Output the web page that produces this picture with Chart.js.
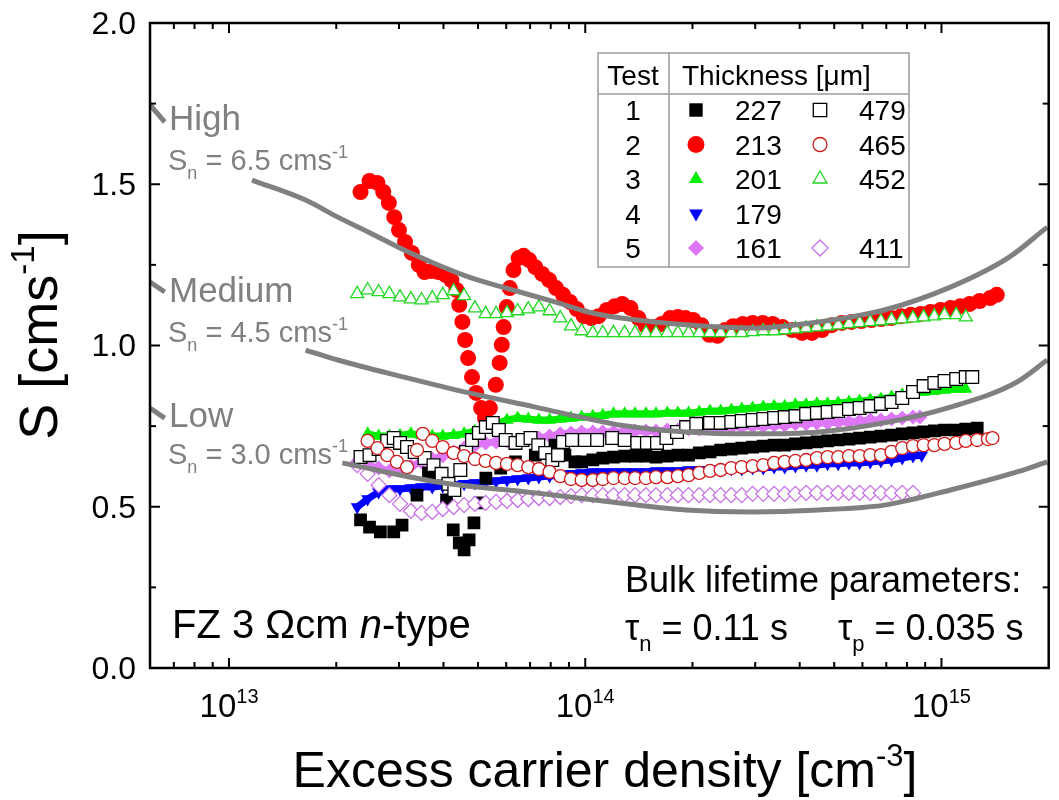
<!DOCTYPE html>
<html>
<head>
<meta charset="utf-8">
<script src="https://cdn.jsdelivr.net/npm/chart.js@4.4.0/dist/chart.umd.min.js"></script>
<style>
  html, body { margin: 0; padding: 0; background: #ffffff; }
</style>
</head>
<body>
<canvas id="sChart" width="1059" height="800"></canvas>
<script>
// axes
const xRange = [6e12, 2e15];
const yRange = [0, 2.0];
const xMajorTicks = [1e13, 1e14, 1e15];
const xMajorExp = ['13', '14', '15'];
const xMinorTicks = [7e12, 8e12, 9e12, 2e13, 3e13, 4e13, 5e13, 6e13, 7e13, 8e13, 9e13,
  2e14, 3e14, 4e14, 5e14, 6e14, 7e14, 8e14, 9e14];
const yMajorTicks = [0, 0.5, 1.0, 1.5, 2.0];
const yMinorTicks = [0.25, 0.75, 1.25, 1.75];

// legend table
const testNumbers = ['1', '2', '3', '4', '5'];
const thinThickness = ['227', '213', '201', '179', '161'];
const thickThickness = ['479', '465', '452', null, '411'];

// modelled S curves (grey), null = hidden behind the label
const curveHigh = [[6.0e12, 1.746], [6.6e12, 1.693], [9e12, null], [1.16e13, 1.513], [1.64e13, 1.451],
  [2.02e13, 1.398], [2.49e13, 1.349], [3.10e13, 1.296], [3.82e13, 1.252], [4.72e13, 1.212], [5.86e13, 1.181],
  [8.22e13, 1.135], [1.02e14, 1.104], [1.26e14, 1.085], [1.92e14, 1.064], [2.95e14, 1.054], [4.53e14, 1.073],
  [6.91e14, 1.110], [1.06e15, 1.181], [1.55e15, 1.274], [1.98e15, 1.367]];
const curveMedium = [[6.0e12, 1.197], [6.6e12, 1.166], [9e12, null], [1.64e13, 0.986], [2.02e13, 0.955],
  [3.10e13, 0.902], [4.72e13, 0.853], [7.24e13, 0.809], [1.06e14, 0.769], [1.26e14, 0.753], [1.92e14, 0.732],
  [2.95e14, 0.726], [4.53e14, 0.732], [6.90e14, 0.760], [1.06e15, 0.809], [1.63e15, 0.887], [1.98e15, 0.955]];
const curveLow = [[6.0e12, 0.806], [6.6e12, 0.775], [9e12, null], [2.08e13, 0.636], [3.83e13, 0.577],
  [7.24e13, 0.543], [1.06e14, 0.521], [1.92e14, 0.490], [2.95e14, 0.484], [4.53e14, 0.490], [6.90e14, 0.505],
  [1.06e15, 0.552], [1.63e15, 0.608], [1.98e15, 0.639]];

// measured S, test 1
const s227 = [[2.34e13,0.459],[2.48e13,0.437],[2.66e13,0.422],[2.90e13,0.422],[3.06e13,0.443],[3.37e13,0.536],
  [3.63e13,0.605],[3.90e13,0.589],[4.08e13,0.521],[4.26e13,0.428],[4.43e13,0.388],[4.57e13,0.366],[4.72e13,0.397],
  [4.87e13,0.450],[5.07e13,0.512],[5.26e13,0.589],[5.79e13,0.620],[6.37e13,0.639],[7.24e13,0.660],[8.22e13,0.691],
  [8.77e13,0.660],[9.35e13,0.639],[9.77e13,0.639],[1.05e14,0.645],[1.12e14,0.651],[1.20e14,0.654],[1.29e14,0.657],
  [1.38e14,0.657],[1.48e14,0.657],[1.58e14,0.654],[1.70e14,0.657],[1.82e14,0.660],[1.95e14,0.660],[2.09e14,0.667],
  [2.24e14,0.670],[2.40e14,0.676],[2.57e14,0.679],[2.75e14,0.682],[2.95e14,0.685],[3.16e14,0.688],[3.39e14,0.691],
  [3.63e14,0.691],[3.89e14,0.695],[4.17e14,0.698],[4.47e14,0.701],[4.79e14,0.704],[5.13e14,0.707],[5.50e14,0.710],
  [5.89e14,0.713],[6.31e14,0.716],[6.76e14,0.719],[7.24e14,0.722],[7.76e14,0.726],[8.32e14,0.729],[8.91e14,0.732],
  [9.55e14,0.735],[1.02e15,0.738],[1.10e15,0.738],[1.17e15,0.741],[1.26e15,0.744]];
const s479 = [[2.34e13,0.654],[2.48e13,0.660],[2.63e13,0.679],[2.78e13,0.704],[2.90e13,0.713],[3.02e13,0.698],
  [3.16e13,0.685],[3.32e13,0.670],[3.54e13,0.651],[3.75e13,0.629],[3.95e13,0.602],[4.13e13,0.571],[4.29e13,0.552],
  [4.46e13,0.614],[4.63e13,0.670],[4.81e13,0.707],[5.03e13,0.729],[5.26e13,0.747],[5.50e13,0.760],[5.72e13,0.738],
  [5.98e13,0.707],[6.37e13,0.698],[6.67e13,0.707],[7.02e13,0.713],[7.38e13,0.691],[7.72e13,0.667],[8.08e13,0.645],
  [8.39e13,0.660],[8.66e13,0.701],[9.18e13,0.707],[9.98e13,0.707],[1.08e14,0.707],[1.19e14,0.713],[1.29e14,0.707],
  [1.40e14,0.698],[1.49e14,0.698],[1.59e14,0.698],[1.69e14,0.713],[1.81e14,0.732],[1.92e14,0.747],[2.05e14,0.757],
  [2.24e14,0.760],[2.40e14,0.760],[2.57e14,0.763],[2.75e14,0.766],[2.95e14,0.769],[3.16e14,0.772],[3.39e14,0.775],
  [3.63e14,0.778],[3.89e14,0.781],[4.17e14,0.788],[4.47e14,0.791],[4.79e14,0.794],[5.13e14,0.797],[5.50e14,0.803],
  [5.89e14,0.806],[6.31e14,0.812],[6.76e14,0.819],[7.24e14,0.825],[7.76e14,0.837],[8.32e14,0.856],[8.91e14,0.874],
  [9.55e14,0.884],[1.02e15,0.890],[1.10e15,0.896],[1.17e15,0.902],[1.22e15,0.902]];

// test 2
const s213 = [[2.34e13,1.476],[2.48e13,1.510],[2.61e13,1.504],[2.71e13,1.476],[2.81e13,1.442],[2.91e13,1.398],
  [3.00e13,1.358],[3.12e13,1.321],[3.26e13,1.287],[3.41e13,1.250],[3.54e13,1.228],[3.70e13,1.231],[3.87e13,1.228],
  [4.05e13,1.219],[4.21e13,1.203],[4.35e13,1.172],[4.43e13,1.126],[4.52e13,1.073],[4.60e13,1.017],[4.69e13,0.961],
  [4.81e13,0.902],[4.94e13,0.853],[5.10e13,0.806],[5.23e13,0.775],[5.40e13,0.806],[5.61e13,0.878],[5.75e13,0.946],
  [5.83e13,1.002],[5.90e13,1.057],[6.02e13,1.119],[6.14e13,1.178],[6.29e13,1.234],[6.50e13,1.271],[6.71e13,1.278],
  [6.96e13,1.265],[7.24e13,1.243],[7.57e13,1.222],[7.92e13,1.203],[8.28e13,1.178],[8.66e13,1.157],[9.06e13,1.135],
  [9.47e13,1.113],[9.90e13,1.091],[1.04e14,1.085],[1.09e14,1.091],[1.15e14,1.110],[1.21e14,1.122],[1.27e14,1.129],
  [1.34e14,1.116],[1.41e14,1.085],[1.48e14,1.060],[1.56e14,1.057],[1.64e14,1.067],[1.73e14,1.085],[1.82e14,1.088],
  [1.91e14,1.085],[2.01e14,1.079],[2.12e14,1.063],[2.23e14,1.033],[2.35e14,1.030],[2.47e14,1.048],[2.60e14,1.060],
  [2.77e14,1.067],[2.95e14,1.070],[3.15e14,1.070],[3.36e14,1.067],[3.58e14,1.057],[3.81e14,1.048],[4.06e14,1.039],
  [4.33e14,1.039],[4.62e14,1.048],[4.92e14,1.063],[5.25e14,1.070],[5.59e14,1.073],[5.96e14,1.076],[6.36e14,1.079],
  [6.77e14,1.082],[7.22e14,1.085],[7.70e14,1.091],[8.20e14,1.095],[8.74e14,1.098],[9.32e14,1.104],[9.94e14,1.110],
  [1.06e15,1.116],[1.13e15,1.122],[1.20e15,1.129],[1.28e15,1.138],[1.37e15,1.147],[1.43e15,1.157]];
const s465 = [[2.45e13,0.704],[2.61e13,0.682],[2.78e13,0.660],[2.96e13,0.639],[3.16e13,0.623],[3.37e13,0.676],
  [3.50e13,0.726],[3.72e13,0.704],[3.98e13,0.685],[4.27e13,0.667],[4.57e13,0.657],[4.90e13,0.648],[5.25e13,0.642],
  [5.62e13,0.636],[6.03e13,0.633],[6.46e13,0.629],[6.92e13,0.623],[7.41e13,0.617],[7.94e13,0.608],[8.51e13,0.595],
  [9.12e13,0.586],[9.77e13,0.583],[1.05e14,0.583],[1.12e14,0.586],[1.20e14,0.589],[1.29e14,0.589],[1.38e14,0.589],
  [1.48e14,0.589],[1.58e14,0.592],[1.70e14,0.592],[1.82e14,0.595],[1.95e14,0.598],[2.09e14,0.605],[2.24e14,0.611],
  [2.40e14,0.614],[2.57e14,0.620],[2.75e14,0.623],[2.95e14,0.626],[3.16e14,0.629],[3.39e14,0.636],[3.63e14,0.639],
  [3.89e14,0.642],[4.17e14,0.645],[4.47e14,0.651],[4.79e14,0.654],[5.13e14,0.654],[5.50e14,0.657],[5.89e14,0.657],
  [6.31e14,0.660],[6.76e14,0.660],[7.24e14,0.670],[7.76e14,0.682],[8.32e14,0.688],[8.91e14,0.691],[9.55e14,0.691],
  [1.02e15,0.695],[1.10e15,0.698],[1.17e15,0.704],[1.26e15,0.707],[1.35e15,0.710],[1.39e15,0.713]];

// test 3
const s201 = [[2.45e13,0.726],[2.63e13,0.719],[2.82e13,0.719],[3.02e13,0.722],[3.24e13,0.726],[3.47e13,0.722],
  [3.72e13,0.719],[3.98e13,0.719],[4.27e13,0.722],[4.57e13,0.726],[4.90e13,0.735],[5.25e13,0.747],[5.62e13,0.757],
  [6.03e13,0.769],[6.46e13,0.775],[6.92e13,0.772],[7.41e13,0.769],[7.94e13,0.769],[8.51e13,0.772],[9.12e13,0.775],
  [9.77e13,0.778],[1.05e14,0.781],[1.12e14,0.784],[1.20e14,0.788],[1.29e14,0.788],[1.38e14,0.788],[1.48e14,0.788],
  [1.58e14,0.788],[1.70e14,0.791],[1.82e14,0.791],[1.95e14,0.791],[2.09e14,0.794],[2.24e14,0.797],[2.40e14,0.797],
  [2.57e14,0.800],[2.75e14,0.803],[2.95e14,0.806],[3.16e14,0.809],[3.39e14,0.812],[3.63e14,0.812],[3.89e14,0.816],
  [4.17e14,0.816],[4.47e14,0.819],[4.79e14,0.819],[5.13e14,0.822],[5.50e14,0.825],[5.89e14,0.828],[6.31e14,0.831],
  [6.76e14,0.834],[7.24e14,0.840],[7.76e14,0.847],[8.32e14,0.853],[8.91e14,0.856],[9.55e14,0.859],[1.02e15,0.862],
  [1.10e15,0.865],[1.17e15,0.865]];
const s452 = [[2.29e13,1.160],[2.45e13,1.172],[2.63e13,1.166],[2.82e13,1.160],[3.02e13,1.150],[3.24e13,1.144],
  [3.47e13,1.141],[3.72e13,1.147],[3.98e13,1.157],[4.27e13,1.169],[4.57e13,1.154],[4.90e13,1.116],[5.25e13,1.098],
  [5.62e13,1.098],[6.03e13,1.101],[6.46e13,1.107],[6.92e13,1.113],[7.41e13,1.119],[7.94e13,1.107],[8.51e13,1.085],
  [9.12e13,1.060],[9.77e13,1.045],[1.05e14,1.039],[1.12e14,1.039],[1.20e14,1.039],[1.29e14,1.039],[1.38e14,1.039],
  [1.48e14,1.039],[1.58e14,1.039],[1.70e14,1.039],[1.82e14,1.039],[1.95e14,1.039],[2.09e14,1.039],[2.24e14,1.039],
  [2.40e14,1.039],[2.57e14,1.039],[2.75e14,1.039],[2.95e14,1.042],[3.16e14,1.045],[3.39e14,1.045],[3.63e14,1.048],
  [3.89e14,1.051],[4.17e14,1.054],[4.47e14,1.057],[4.79e14,1.060],[5.13e14,1.063],[5.50e14,1.067],[5.89e14,1.070],
  [6.31e14,1.073],[6.76e14,1.076],[7.24e14,1.079],[7.76e14,1.082],[8.32e14,1.085],[8.91e14,1.088],[9.55e14,1.091],
  [1.02e15,1.095],[1.10e15,1.095],[1.17e15,1.088]];

// test 4
const s179 = [[2.29e13,0.499],[2.45e13,0.524],[2.63e13,0.546],[2.82e13,0.555],[3.02e13,0.555],[3.24e13,0.558],
  [3.47e13,0.561],[3.72e13,0.561],[3.98e13,0.564],[4.27e13,0.567],[4.57e13,0.571],[4.90e13,0.574],[5.25e13,0.577],
  [5.62e13,0.580],[6.03e13,0.583],[6.46e13,0.586],[6.92e13,0.589],[7.41e13,0.592],[7.94e13,0.595],[8.51e13,0.598],
  [9.12e13,0.602],[9.77e13,0.605],[1.05e14,0.608],[1.12e14,0.608],[1.20e14,0.608],[1.29e14,0.608],[1.38e14,0.608],
  [1.48e14,0.608],[1.58e14,0.611],[1.70e14,0.611],[1.82e14,0.611],[1.95e14,0.614],[2.09e14,0.614],[2.24e14,0.614],
  [2.40e14,0.617],[2.57e14,0.617],[2.75e14,0.617],[2.95e14,0.620],[3.16e14,0.620],[3.39e14,0.623],[3.63e14,0.623],
  [3.89e14,0.626],[4.17e14,0.629],[4.47e14,0.629],[4.79e14,0.633],[5.13e14,0.633],[5.50e14,0.636],[5.89e14,0.636],
  [6.31e14,0.639],[6.76e14,0.642],[7.24e14,0.645],[7.76e14,0.651],[8.32e14,0.657],[8.8e14,0.660]];

// test 5
const s161 = [[2.29e13,0.639],[2.45e13,0.629],[2.63e13,0.620],[2.82e13,0.611],[3.02e13,0.614],[3.24e13,0.626],
  [3.47e13,0.639],[3.72e13,0.648],[3.98e13,0.657],[4.27e13,0.670],[4.57e13,0.682],[4.90e13,0.691],[5.25e13,0.698],
  [5.62e13,0.701],[6.03e13,0.704],[6.46e13,0.707],[6.92e13,0.710],[7.41e13,0.713],[7.94e13,0.719],[8.51e13,0.726],
  [9.12e13,0.729],[9.77e13,0.732],[1.05e14,0.732],[1.12e14,0.732],[1.20e14,0.732],[1.29e14,0.732],[1.38e14,0.735],
  [1.48e14,0.735],[1.58e14,0.735],[1.70e14,0.738],[1.82e14,0.738],[1.95e14,0.741],[2.09e14,0.741],[2.24e14,0.744],
  [2.40e14,0.744],[2.57e14,0.747],[2.75e14,0.747],[2.95e14,0.750],[3.16e14,0.750],[3.39e14,0.753],[3.63e14,0.753],
  [3.89e14,0.757],[4.17e14,0.757],[4.47e14,0.760],[4.79e14,0.760],[5.13e14,0.763],[5.50e14,0.763],[5.89e14,0.766],
  [6.31e14,0.769],[6.76e14,0.769],[7.24e14,0.772],[7.76e14,0.775],[8.32e14,0.778],[8.7e14,0.778]];
const s411 = [[2.29e13,0.629],[2.45e13,0.602],[2.63e13,0.567],[2.82e13,0.536],[3.02e13,0.509],[3.24e13,0.487],
  [3.47e13,0.481],[3.72e13,0.484],[3.98e13,0.493],[4.27e13,0.499],[4.57e13,0.505],[4.90e13,0.509],[5.25e13,0.512],
  [5.62e13,0.515],[6.03e13,0.518],[6.46e13,0.521],[6.92e13,0.524],[7.41e13,0.527],[7.94e13,0.527],[8.51e13,0.530],
  [9.12e13,0.533],[9.77e13,0.536],[1.05e14,0.536],[1.12e14,0.536],[1.20e14,0.536],[1.29e14,0.536],[1.38e14,0.536],
  [1.48e14,0.536],[1.58e14,0.536],[1.70e14,0.536],[1.82e14,0.536],[1.95e14,0.536],[2.09e14,0.536],[2.24e14,0.536],
  [2.40e14,0.536],[2.57e14,0.536],[2.75e14,0.536],[2.95e14,0.540],[3.16e14,0.540],[3.39e14,0.540],[3.63e14,0.540],
  [3.89e14,0.540],[4.17e14,0.543],[4.47e14,0.543],[4.79e14,0.543],[5.13e14,0.543],[5.50e14,0.543],[5.89e14,0.543],
  [6.31e14,0.543],[6.76e14,0.543],[7.24e14,0.543],[7.76e14,0.543],[8.32e14,0.543]];

const FONT = 'Liberation Sans, Arial, sans-serif';
const GREY = '#808080';

const pts = arr => arr.map(p => ({ x: p[0], y: p[1] }));

function curve(label, arr) {
  return {
    label: label, data: pts(arr), showLine: true, pointRadius: 0,
    borderColor: GREY, borderWidth: 5, cubicInterpolationMode: 'monotone', spanGaps: false
  };
}

// marker spec: [style, fill, stroke, radius, borderWidth, rotation, bandWidth]
function marker(label, arr, m) {
  const ds = {
    label: label, data: pts(arr), showLine: false,
    pointStyle: m[0], pointRadius: m[3], pointRotation: m[5] || 0,
    pointBackgroundColor: m[1], pointBorderColor: m[2], pointBorderWidth: m[4]
  };
  if (m[6]) {
    // filled series: join neighbouring markers into a band, skip long jumps
    ds.showLine = true;
    ds.borderColor = m[1];
    ds.borderWidth = m[6];
    ds.segment = {
      borderColor: c => Math.hypot(c.p1.x - c.p0.x, c.p1.y - c.p0.y) > 16 ? 'rgba(0,0,0,0)' : undefined
    };
  }
  return ds;
}

const mkThin = {
  '227': ['rect', '#000000', '#000000', 9, 0, 0, 0],
  '213': ['circle', '#ff0000', '#ff0000', 8, 0, 0, 0],
  '201': ['triangle', '#00ee00', '#00ee00', 7.5, 0, 0, 7],
  '179': ['triangle', '#0000ff', '#0000ff', 7.5, 0, 180, 7],
  '161': ['rectRot', '#dd77f5', '#dd77f5', 7.5, 0, 0, 7]
};
const mkThick = {
  '479': ['rect', '#ffffff', '#000000', 9, 1.3, 0, 0],
  '465': ['circle', '#ffffff', '#d01818', 6.5, 1.3, 0, 0],
  '452': ['triangle', '#ffffff', '#22d822', 7.5, 1.3, 0, 0],
  '411': ['rectRot', '#ffffff', '#c76ee8', 7.5, 1.3, 0, 0]
};

// first in list is drawn on top
const datasets = [
  curve('High', curveHigh), curve('Medium', curveMedium), curve('Low', curveLow),
  marker('465', s465, mkThick['465']),
  marker('452', s452, mkThick['452']),
  marker('479', s479, mkThick['479']),
  marker('213', s213, mkThin['213']),
  marker('411', s411, mkThick['411']),
  marker('227', s227, mkThin['227']),
  marker('201', s201, mkThin['201']),
  marker('161', s161, mkThin['161']),
  marker('179', s179, mkThin['179'])
];

// text with sub/superscripts: parts = [text, 'sub'|'sup'|'', italic]
function richText(ctx, parts, x, y, size, color, align) {
  const fontFor = p => (p[2] ? 'italic ' : '') + Math.round(p[1] ? size * 0.62 : size) + 'px ' + FONT;
  let w = 0;
  parts.forEach(p => { ctx.font = fontFor(p); w += ctx.measureText(p[0]).width; });
  let cx = align === 'center' ? x - w / 2 : (align === 'right' ? x - w : x);
  ctx.fillStyle = color;
  ctx.textAlign = 'left';
  ctx.textBaseline = 'alphabetic';
  parts.forEach(p => {
    ctx.font = fontFor(p);
    const dy = p[1] === 'sub' ? size * 0.3 : (p[1] === 'sup' ? -size * 0.42 : 0);
    ctx.fillText(p[0], cx, y + dy);
    cx += ctx.measureText(p[0]).width;
  });
}

function legendMark(ctx, m, x, y) {
  ctx.fillStyle = m[1];
  ctx.strokeStyle = m[2];
  ctx.lineWidth = m[4] || 1;
  Chart.helpers.drawPoint(ctx, { pointStyle: m[0], radius: m[3] + 0.5, rotation: m[5], borderWidth: m[4] }, x, y);
}

const decor = {
  id: 'decor',
  afterDraw(chart) {
    const ctx = chart.ctx, a = chart.chartArea;
    const xs = chart.scales.x, ys = chart.scales.y;
    ctx.save();

    // frame and inward ticks
    ctx.strokeStyle = '#000';
    ctx.lineWidth = 2;
    const seg = (x1, y1, x2, y2) => { ctx.beginPath(); ctx.moveTo(x1, y1); ctx.lineTo(x2, y2); ctx.stroke(); };
    xMajorTicks.forEach(v => { const p = xs.getPixelForValue(v); seg(p, a.bottom, p, a.bottom - 10); seg(p, a.top, p, a.top + 10); });
    xMinorTicks.forEach(v => { const p = xs.getPixelForValue(v); seg(p, a.bottom, p, a.bottom - 6); seg(p, a.top, p, a.top + 6); });
    yMajorTicks.forEach(v => { const p = ys.getPixelForValue(v); seg(a.left, p, a.left + 10, p); seg(a.right, p, a.right - 10, p); });
    yMinorTicks.forEach(v => { const p = ys.getPixelForValue(v); seg(a.left, p, a.left + 6, p); seg(a.right, p, a.right - 6, p); });
    ctx.lineWidth = 2.5;
    ctx.strokeRect(a.left, a.top, a.right - a.left, a.bottom - a.top);

    // tick labels
    ctx.fillStyle = '#000';
    ctx.font = '32px ' + FONT;
    ctx.textAlign = 'right';
    ctx.textBaseline = 'middle';
    yMajorTicks.forEach(v => ctx.fillText(v.toFixed(1), 136, ys.getPixelForValue(v) + 2));
    xMajorTicks.forEach((v, i) => richText(ctx, [['10', ''], [xMajorExp[i], 'sup']], xs.getPixelForValue(v), 717, 33, '#000', 'center'));

    // axis titles
    richText(ctx, [['Excess carrier density [cm', ''], ['-3', 'sup'], [']', '']], 605, 787, 50, '#000', 'center');
    ctx.save();
    ctx.translate(38, 335);
    ctx.rotate(-Math.PI / 2);
    richText(ctx, [['S [cms', ''], ['-1', 'sup'], [']', '']], 0, 19, 54, '#000', 'center');
    ctx.restore();

    // curve labels
    richText(ctx, [['High', '']], 169, 130, 35, GREY, 'left');
    richText(ctx, [['S', ''], ['n', 'sub'], [' = 6.5 cms', ''], ['-1', 'sup']], 168, 170, 29, GREY, 'left');
    richText(ctx, [['Medium', '']], 169, 302, 35, GREY, 'left');
    richText(ctx, [['S', ''], ['n', 'sub'], [' = 4.5 cms', ''], ['-1', 'sup']], 168, 342, 29, GREY, 'left');
    richText(ctx, [['Low', '']], 169, 427, 35, GREY, 'left');
    richText(ctx, [['S', ''], ['n', 'sub'], [' = 3.0 cms', ''], ['-1', 'sup']], 168, 464, 29, GREY, 'left');

    // annotations
    richText(ctx, [['FZ 3 \u03A9cm ', ''], ['n', '', true], ['-type', '']], 172, 638, 40, '#000', 'left');
    richText(ctx, [['Bulk lifetime parameters:', '']], 625, 592, 36, '#000', 'left');
    richText(ctx, [['\u03C4', ''], ['n', 'sub'], [' = 0.11 s', '']], 625, 640, 36, '#000', 'left');
    richText(ctx, [['\u03C4', ''], ['p', 'sub'], [' = 0.035 s', '']], 838, 640, 36, '#000', 'left');

    // legend table
    ctx.fillStyle = '#fff';
    ctx.fillRect(598, 53, 311, 214);
    ctx.strokeStyle = '#9a9a9a';
    ctx.lineWidth = 1.5;
    ctx.strokeRect(598, 53, 311, 214);
    seg(598, 94, 909, 94);
    seg(669, 53, 669, 267);
    richText(ctx, [['Test', '']], 633, 85, 28, '#000', 'center');
    richText(ctx, [['Thickness [\u03BCm]', '']], 682, 85, 28, '#000', 'left');
    testNumbers.forEach((t, i) => {
      const cy = 110 + i * 34.5;
      richText(ctx, [[t, '']], 633, cy + 10, 28, '#000', 'center');
      legendMark(ctx, mkThin[thinThickness[i]], 696, cy);
      richText(ctx, [[thinThickness[i], '']], 735, cy + 10, 28, '#000', 'left');
      if (thickThickness[i]) {
        legendMark(ctx, mkThick[thickThickness[i]], 820, cy);
        richText(ctx, [[thickThickness[i], '']], 859, cy + 10, 28, '#000', 'left');
      }
    });
    ctx.restore();
  }
};

new Chart(document.getElementById('sChart'), {
  type: 'scatter',
  data: { datasets: datasets },
  options: {
    responsive: false,
    animation: false,
    devicePixelRatio: 1,
    layout: { padding: { left: 150, right: 1, top: 23, bottom: 132 } },
    plugins: { legend: { display: false }, tooltip: { enabled: false } },
    scales: {
      x: { type: 'logarithmic', min: xRange[0], max: xRange[1], display: false },
      y: { type: 'linear', min: yRange[0], max: yRange[1], display: false }
    }
  },
  plugins: [decor]
});
</script>
</body>
</html>
